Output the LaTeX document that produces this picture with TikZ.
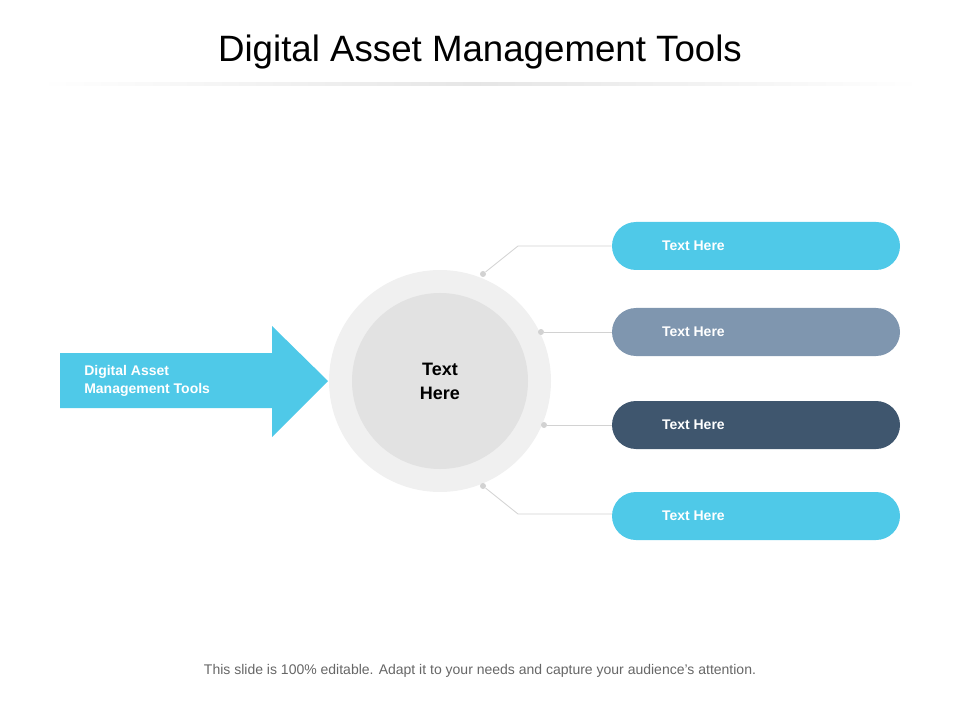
\documentclass[tikz,border=0pt]{standalone}
\usepackage{fontspec}
\setmainfont{Liberation Sans}
\usetikzlibrary{calc,positioning}
\definecolor{skyc}{HTML}{4FC9E8}
\definecolor{slatec}{HTML}{7F96AF}
\definecolor{navyc}{HTML}{3F566E}
\definecolor{dotc}{HTML}{D2D2D2}
\definecolor{ringc}{HTML}{F0F0F0}
\definecolor{corec}{HTML}{E2E2E2}
\tikzset{
  pill/.style={rounded corners=18pt, minimum width=216pt, minimum height=36pt, inner sep=0},
  pilltext/.style={text=white, font=\fontsize{10.5}{12}\selectfont\bfseries, anchor=west, inner sep=0},
  joint/.style={circle, fill=dotc, inner sep=0, minimum size=4.5pt},
  link/.style={draw=dotc, line width=0.6pt}
}
\begin{document}
\begin{tikzpicture}[x=0.75pt,y=-0.75pt]
  \useasboundingbox (0,0) rectangle (960,720);
  % title
  \node (title) at (480,52) {\fontsize{27.5}{32}\selectfont Digital Asset Management Tools};
  \shade[left color=white, right color=white, middle color=black!10] (40,83) rectangle (920,86);
  % input arrow
  \fill[skyc] (60,353) -- (272,353) -- (272,326) -- (328,381) -- (272,437)
        -- (272,408) -- (60,408) -- cycle;
  \node[anchor=west, align=left, inner sep=0, text=white, font=\fontsize{10.5}{14}\selectfont\bfseries]
        (input) at (84,381) {Digital Asset\\Management Tools};
  % hub
  \fill[ringc] (440,381) circle (111);
  \fill[corec] (440,381) circle (88);
  \node[align=center, font=\fontsize{13.5}{18}\selectfont\bfseries] (hub) at (440,381) {Text\\Here};
  % joints
  \node[joint] (j1) at (483,274) {};
  \node[joint] (j2) at (541,332) {};
  \node[joint] (j3) at (544,425) {};
  \node[joint] (j4) at (483,486) {};
  % pills
  \node[pill, fill=skyc]   (p1) at (756,246) {};
  \node[pill, fill=slatec] (p2) at (756,332) {};
  \node[pill, fill=navyc]  (p3) at (756,425) {};
  \node[pill, fill=skyc]   (p4) at (756,516) {};
  \foreach \i in {1,...,4}
    \node[pilltext] (t\i) at ($(p\i.west)+(50,0)$) {Text Here};
  % links
  \draw[link] (j1) -- (518,246) -- (p1.west);
  \draw[link] (j2) -- (p2.west);
  \draw[link] (j3) -- (p3.west);
  \draw[link] (j4) -- (518,514) -- (612,514);
  % footer
  \node[text=black!60, font=\fontsize{10.5}{12}\selectfont] (note) at (480,671)
        {This slide is 100\% editable. Adapt it to your needs and capture your audience's attention.};
\end{tikzpicture}
\end{document}
